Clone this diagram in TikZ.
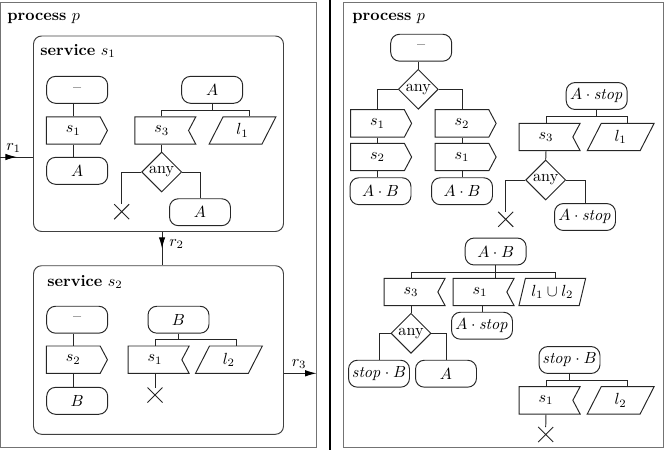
\documentclass[tikz,border=0pt]{standalone}
\usepackage{amsmath}
\usepackage{tikz}
\usetikzlibrary{shapes.geometric,shapes.symbols,shapes.misc,arrows.meta,decorations.markings}

\tikzset{
  flow/.style={draw=black!85, line width=0.6pt},
  state/.style={flow, rounded corners=5.5pt, minimum width=37.8pt, minimum height=16.7pt, inner xsep=2pt, inner ysep=0pt},
  sendsig/.style={flow, shape=signal, signal to=east, signal from=nowhere, signal pointer angle=124, minimum width=37.8pt, minimum height=17pt, inner xsep=2pt, inner ysep=0pt},
  recvsig/.style={flow, shape=signal, signal to=nowhere, signal from=east, signal pointer angle=124, minimum width=37.8pt, minimum height=17pt, inner xsep=2pt, inner ysep=0pt},
  task/.style={flow, trapezium, trapezium left angle=68, trapezium right angle=112, trapezium stretches=true, minimum width=41.5pt, minimum height=17pt, inner xsep=1pt, inner ysep=0pt},
  choice/.style={flow, diamond, aspect=1, minimum width=24.8pt, minimum height=24.8pt, inner sep=0pt},
  halt/.style={flow, cross out, minimum size=8.7pt, inner sep=0pt},
  procbox/.style={draw=black!55, line width=0.6pt, inner sep=0pt},
  servbox/.style={draw=black!75, line width=0.6pt, rounded corners=5pt, inner sep=0pt},
  wire/.style={draw=black!85, line width=0.6pt},
  midarrow/.style={wire, postaction={decorate}, decoration={markings, mark=at position 0.5 with {\arrow[black]{Latex[length=7pt,width=4pt]}}}},
  lbl/.style={inner sep=0pt, anchor=base west},
}

\begin{document}
\begin{tikzpicture}[x=0.62pt, y=-0.62pt]
   \useasboundingbox (0,0) rectangle (664,450);

   % left: process with two services
   \node[procbox, minimum width=195.9pt, minimum height=275.9pt] (proc1) at (158.5,225) {};
   \node[lbl] (ptitle1) at (7,20) {\textbf{process} $p$};

   \node[servbox, minimum width=155pt, minimum height=121.2pt] (sv1) at (158.5,133.75) {};
   \node[lbl] (stitle1) at (40,55) {\textbf{service} $s_1$};
   \node[servbox, minimum width=155pt, minimum height=104.5pt] (sv2) at (158.5,350) {};
   \node[lbl] (stitle2) at (47,286.5) {\textbf{service} $s_2$};

   % channels
   \coordinate (r1a) at (0.5,157);
   \coordinate (r3b) at (316.5,373.3);
   \draw[midarrow] (r1a) -- (r1a -| sv1.west);
   \draw[midarrow] ([xshift=2.2pt]sv1.south) -- ([xshift=2.2pt]sv2.north);
   \draw[wire, -{Latex[length=7pt,width=4pt,black]}] (r3b -| sv2.east) -- (r3b);
   \node[lbl] (r1lab) at (6,150.5) {$r_1$};
   \node[lbl] (r2lab) at (169,246.5) {$r_2$};
   \node[lbl] (r3lab) at (291.5,366) {$r_3$};

   % service s1
   \node[state] (st1a) at (77.2,89.8) {--};
   \node[sendsig] (out1a) at (73.3,130.5) {$s_1$};
   \node[state] (st1b) at (77.2,170.8) {$A$};
   \draw[wire] (out1a.north) -- (out1a.north |- st1a.south);
   \draw[wire] (out1a.south) -- (out1a.south |- st1b.north);

   \node[state] (st1c) at (212.2,89.8) {$A$};
   \node[recvsig] (in1a) at (161.7,130.5) {$s_3$};
   \node[task] (par1a) at (242.5,130.5) {$l_1$};
   \node[choice] (dec1a) at (161.7,172) {any};
   \node[halt] (stop1a) at (121.7,211.7) {};
   \node[state] (st1d) at (200,212.2) {$A$};
   \draw[wire] (st1c.south) -- ++(0,6.7) coordinate (k1);
   \draw[wire] (in1a.north) |- (k1) -| (par1a.top side);
   \draw[wire] (in1a.south) -- (dec1a.north);
   \draw[wire] (dec1a.west) -| (stop1a.north);
   \draw[wire] (dec1a.east) -| (st1d.north);

   % service s2
   \node[state] (st2a) at (77.2,319.7) {--};
   \node[sendsig] (out2a) at (73.3,359.7) {$s_2$};
   \node[state] (st2b) at (77.2,400.8) {$B$};
   \draw[wire] (out2a.north) -- (out2a.north |- st2a.south);
   \draw[wire] (out2a.south) -- (out2a.south |- st2b.north);

   \node[state] (st2c) at (178.5,319.7) {$B$};
   \node[recvsig] (in2a) at (155,359.7) {$s_1$};
   \node[task] (par2a) at (228.9,359.7) {$l_2$};
   \node[halt] (stop2a) at (155,395) {};
   \draw[wire] (st2c.south) -- ++(0,6) coordinate (k2);
   \draw[wire] (in2a.north) |- (k2) -| (par2a.top side);
   \draw[wire] (in2a.south) -- (stop2a.north);

   % divider
   \draw[line width=1pt] (330,0) -- (330,450);

   % right: the composed process
   \node[procbox, minimum width=198.4pt, minimum height=275.9pt] (proc2) at (503,225) {};
   \node[lbl] (ptitle2) at (352,20) {\textbf{process} $p$};

   \node[state] (st3a) at (421.2,47.7) {--};
   \node[choice] (dec3a) at (418.3,89.3) {any};
   \draw[wire] (dec3a.north) -- (dec3a.north |- st3a.south);
   \node[sendsig] (out3a) at (377.5,123.4) {$s_1$};
   \node[sendsig] (out3b) at (377.5,157) {$s_2$};
   \node[state] (st3b) at (380.5,191.2) {$A\cdot B$};
   \node[sendsig] (out3c) at (462,123.4) {$s_2$};
   \node[sendsig] (out3d) at (462,157) {$s_1$};
   \node[state] (st3c) at (462,191.2) {$A\cdot B$};
   \draw[wire] (dec3a.west) -| (out3a.north);
   \draw[wire] (dec3a.east) -| (out3c.north);
   \draw[wire] (out3a.south) -- (out3b.north);
   \draw[wire] (out3b.south) -- (out3b.south |- st3b.north);
   \draw[wire] (out3c.south) -- (out3d.north);
   \draw[wire] (out3d.south) -- (out3d.south |- st3c.north);

   \node[state] (st3d) at (596.7,96) {$A\cdot\mathit{stop}$};
   \node[recvsig] (in3a) at (546,137) {$s_3$};
   \node[task] (par3a) at (620.7,137) {$l_1$};
   \node[choice] (dec3b) at (545.7,180) {any};
   \node[halt] (stop3a) at (505.7,219.3) {};
   \node[state] (st3e) at (585,217) {$A\cdot\mathit{stop}$};
   \draw[wire] (st3d.south) -- ++(0,6.7) coordinate (k3);
   \draw[wire] (in3a.north) |- (k3) -| (par3a.top side);
   \draw[wire] (in3a.south) -- (dec3b.north);
   \draw[wire] (dec3b.west) -| (stop3a.north);
   \draw[wire] (dec3b.east) -| (st3e.north);

   \node[state] (st3f) at (495.7,251.5) {$A\cdot B$};
   \node[recvsig] (in3b) at (411,292) {$s_3$};
   \node[recvsig] (in3c) at (480,292) {$s_1$};
   \node[task] (par3b) at (552.3,292) {$l_1\cup l_2$};
   \node[choice] (dec3c) at (411,333.3) {any};
   \node[state] (st3g) at (379,373.7) {$\mathit{stop}\cdot B$};
   \node[state] (st3h) at (446,373.7) {$A$};
   \node[state] (st3i) at (482,325.7) {$A\cdot\mathit{stop}$};
   \draw[wire] (st3f.south) -- ++(0,6.7) coordinate (k4);
   \draw[wire] (k4) -- (k4 |- in3c.north);
   \draw[wire] (in3b.north) |- (k4) -| (par3b.top side);
   \draw[wire] (in3b.south) -- (dec3c.north);
   \draw[wire] (dec3c.west) -| (st3g.north);
   \draw[wire] (dec3c.east) -| (st3h.north);
   \draw[wire] (st3i.north) -- (st3i.north |- in3c.south);

   \node[state] (st3j) at (569.5,360) {$\mathit{stop}\cdot B$};
   \node[recvsig] (in3d) at (546,400.3) {$s_1$};
   \node[task] (par3c) at (620.7,400.3) {$l_2$};
   \node[halt] (stop3b) at (545.7,434.5) {};
   \draw[wire] (st3j.south) -- ++(0,6.7) coordinate (k5);
   \draw[wire] (in3d.north) |- (k5) -| (par3c.top side);
   \draw[wire] (in3d.south) -- (stop3b.north);
\end{tikzpicture}
\end{document}
